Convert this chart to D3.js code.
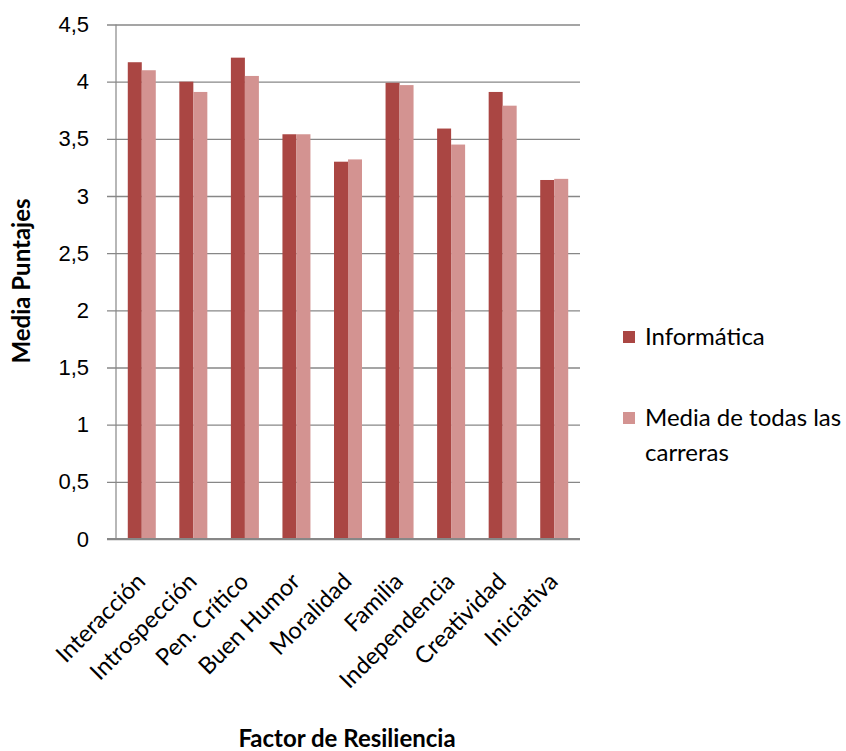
<!DOCTYPE html>
<html>
<head>
<meta charset="utf-8">
<script src="https://cdn.jsdelivr.net/npm/d3@7"></script>
<style>
  html, body { margin: 0; padding: 0; background: #fff; }
  svg { display: block; font-family: Lato, "Open Sans", sans-serif; }
</style>
</head>
<body>
<svg id="chart" width="846" height="751"></svg>
<script>
// Resilience factor means: Informática vs. the average of all degree programmes
const categories = ["Interacción", "Introspección", "Pen. Crítico", "Buen Humor", "Moralidad",
                    "Familia", "Independencia", "Creatividad", "Iniciativa"];
const informatica = [4.17, 4.00, 4.21, 3.54, 3.30, 3.99, 3.59, 3.91, 3.14];
const mediaCarreras = [4.10, 3.91, 4.05, 3.54, 3.32, 3.97, 3.45, 3.79, 3.15];
const seriesNames = ["Informática", "Media de todas las carreras"];
const yTicks = [0, 0.5, 1, 1.5, 2, 2.5, 3, 3.5, 4, 4.5];
const colors = ["#AA4643", "#D39391"];

const svg = d3.select("#chart");
const plot = { left: 116, right: 580, top: 24.5, bottom: 539 };

const x = d3.scaleBand().domain(categories).range([plot.left, plot.right]).paddingInner(0).paddingOuter(0);
const inner = d3.scaleBand().domain([0, 1]).range([0, 28]);
const y = d3.scaleLinear().domain([0, 4.5]).range([plot.bottom, plot.top]);

const fmt = v => String(v).replace(".", ",");

// horizontal gridlines with short tick marks to the left of the axis
const yAxis = d3.axisLeft(y).tickValues(yTicks).tickFormat(fmt)
  .tickSize(-(plot.right - plot.left)).tickPadding(27);
const gy = svg.append("g").attr("transform", `translate(${plot.left},0)`).call(yAxis);
gy.select(".domain").remove();
gy.selectAll(".tick line")
  .attr("x1", -9)
  .attr("stroke", "#878787")
  .attr("stroke-width", 1.4);
gy.selectAll(".tick text")
  .attr("fill", "#000")
  .style("font-size", "22px");

// vertical axis line
svg.append("line")
  .attr("x1", plot.left).attr("x2", plot.left)
  .attr("y1", plot.top).attr("y2", plot.bottom)
  .attr("stroke", "#878787").attr("stroke-width", 1.2);

// bars
const seriesData = [informatica, mediaCarreras];
seriesData.forEach((vals, si) => {
  svg.append("g").selectAll("rect")
    .data(vals)
    .join("rect")
    .attr("x", (d, i) => x(categories[i]) + x.bandwidth() / 2 - 14 + inner(si))
    .attr("width", inner.bandwidth())
    .attr("y", d => y(d))
    .attr("height", d => y(0) - y(d))
    .attr("fill", colors[si]);
});

// baseline
svg.append("line")
  .attr("x1", plot.left - 9).attr("x2", plot.right)
  .attr("y1", plot.bottom).attr("y2", plot.bottom)
  .attr("stroke", "#878787").attr("stroke-width", 2.2);

// rotated category labels
svg.append("g").selectAll("text")
  .data(categories)
  .join("text")
  .attr("transform", d => `translate(${x(d) + x.bandwidth() / 2 + 5},${plot.bottom + 44}) rotate(-45)`)
  .attr("text-anchor", "end")
  .style("font-size", "23.5px")
  .attr("fill", "#000")
  .text(d => d);

// axis titles
svg.append("text")
  .attr("x", 347).attr("y", 747)
  .attr("text-anchor", "middle")
  .style("font-size", "24px").style("font-weight", "bold")
  .text("Factor de Resiliencia");

svg.append("text")
  .attr("transform", "translate(30,281) rotate(-90)")
  .attr("text-anchor", "middle")
  .style("font-size", "24px").style("font-weight", "bold")
  .text("Media Puntajes");

// legend
const legend = svg.append("g");
const legendRows = [
  { lines: ["Informática"], y: 331 },
  { lines: ["Media de todas las", "carreras"], y: 412 }
];
legendRows.forEach((row, i) => {
  legend.append("rect")
    .attr("x", 623).attr("y", row.y)
    .attr("width", 12).attr("height", 12)
    .attr("fill", colors[i]);
  const t = legend.append("text")
    .attr("x", 645).attr("y", row.y + 14)
    .style("font-size", "24px")
    .attr("fill", "#000");
  row.lines.forEach((ln, j) => {
    t.append("tspan").attr("x", 645).attr("dy", j === 0 ? 0 : 35).text(ln);
  });
});
</script>
</body>
</html>
